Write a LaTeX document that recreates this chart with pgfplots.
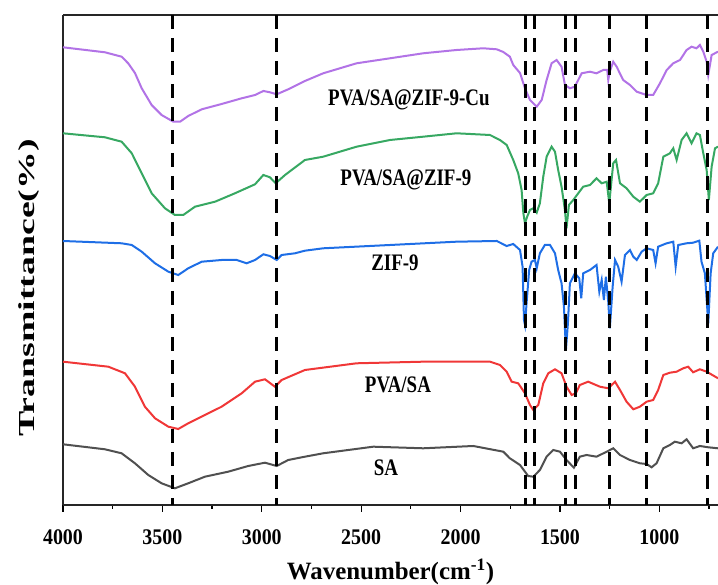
\documentclass[border=0pt]{standalone}
\usepackage{pgfplots}
\pgfplotsset{compat=1.18}
\usepackage{fontspec}
\setmainfont{Liberation Serif}

\definecolor{cupurple}{RGB}{178,115,230}
\definecolor{zifgreen}{RGB}{55,168,98}
\definecolor{zifblue}{RGB}{30,110,230}
\definecolor{pvared}{RGB}{240,55,55}
\definecolor{sagray}{RGB}{80,80,80}

\begin{document}
\begin{tikzpicture}
\begin{axis}[
  scale only axis,
  width=655bp, height=490bp,
  x dir=reverse,
  xmin=705, xmax=4000,
  ymin=0, ymax=490,
  axis x line*=box,
  axis y line*=left,
  y axis line style={-},
  axis line style={line width=1.4bp, black!85},
  xtick={1000,1500,2000,2500,3000,3500,4000},
  minor xtick={750,1250,1750,2250,2750,3250,3750},
  ytick=\empty,
  xtick pos=bottom,
  tick align=outside,
  major tick length=7bp, minor tick length=4bp,
  every tick/.style={black, line width=1.2bp},
  /pgf/number format/assume math mode=true,
  /pgf/number format/1000 sep={},
  xticklabel style={font=\bfseries\fontsize{20}{24}\selectfont, anchor=base, yshift=-33bp, yscale=1.12},
  xlabel={Wavenumber(cm\textsuperscript{-1})},
  xlabel style={font=\bfseries\fontsize{25}{30}\selectfont, at={(axis description cs:0.5,0)}, anchor=base, yshift=-75bp},
  ylabel={Transmittance(\%)},
  ylabel style={font=\bfseries\fontsize{23}{28}\selectfont, at={(axis description cs:-0.03,0.443)}, anchor=south, xscale=1.65},
  clip=false,
]
% PVA/SA@ZIF-9-Cu
\addplot[cupurple, line width=2bp] coordinates {
(4000,457.7) (3789,452.7) (3705,448.3) (3672,441.7) (3638,432) (3604,416.7) (3554,400)
(3504,390) (3445,383.3) (3411,383.3) (3370,389) (3302,395.7) (3202,401) (3101,406.7)
(3034,410) (2992,414) (2959,412.7) (2925,410.7) (2867,415.7) (2783,424) (2691,431.7)
(2523,441.7) (2355,446.7) (2188,451.7) (2020,455) (1886,456.7) (1818,455.7) (1785,453)
(1752,448.3) (1735,440) (1701,432) (1676,416.7) (1651,405) (1617,398.3) (1592,405)
(1567,425) (1542,441.7) (1517,445) (1492,438.3) (1475,420) (1450,416.7) (1425,418.3)
(1391,431.7) (1349,433.3) (1316,431.7) (1282,435) (1262,435) (1257,425) (1250,433)
(1232,443.3) (1215,438.3) (1182,425) (1148,420) (1114,413.3) (1064,410) (1031,410)
(997,421.7) (963,435) (930,441.7) (896,445) (863,455) (838,458.3) (813,456.7) (796,460)
(779,453.3) (762,443.3) (754,430) (737,450) (705,453.3)
};
% PVA/SA@ZIF-9
\addplot[zifgreen, line width=2bp] coordinates {
(4000,371.7) (3789,367.7) (3705,363.3) (3654,351.7) (3604,331.7) (3554,311.7) (3487,296.7)
(3437,290) (3395,290) (3336,298.3) (3235,303.3) (3135,311.7) (3034,320.7) (2992,330)
(2959,327.7) (2930,321.7) (2883,330) (2783,345) (2691,348.3) (2523,358.3) (2355,365)
(2188,368.3) (2020,371.7) (1852,370) (1802,365) (1768,360) (1735,345) (1710,331.7)
(1693,315) (1684,291.7) (1676,281.7) (1665,288.3) (1651,295) (1634,296.7) (1617,292.3)
(1601,301.7) (1584,328.3) (1567,348.3) (1542,358.3) (1525,353.3) (1509,335) (1492,318.3)
(1475,295) (1467,276.7) (1455,300) (1433,305) (1408,311.7) (1383,318.3) (1349,320)
(1316,326.7) (1290,321.7) (1265,323.3) (1252,301.7) (1232,341.7) (1218,345) (1198,321.7)
(1165,316.7) (1131,308.3) (1098,303.3) (1064,310) (1031,311.7) (1006,321.7) (980,348.3)
(947,351.7) (930,356.7) (913,345) (888,365) (863,371.7) (838,361.7) (813,371.7) (796,370)
(779,351.7) (762,335) (751,305) (737,338.3) (720,356.7) (705,358.3)
};
% ZIF-9
\addplot[zifblue, line width=2bp] coordinates {
(4000,264) (3705,261.7) (3654,260) (3604,253.3) (3537,241.7) (3470,233.3) (3420,230)
(3370,236.7) (3302,243.3) (3202,245) (3126,245) (3076,241.7) (3034,245) (2992,250.7)
(2959,249) (2925,245) (2900,250) (2833,251.7) (2783,254.3) (2691,256.7) (2355,260)
(2020,263.3) (1818,264) (1768,259) (1735,261) (1701,255) (1688,238.3) (1681,185)
(1676,180) (1668,201.7) (1655,235) (1643,243.3) (1626,245) (1617,236.7) (1601,251.7)
(1576,260) (1550,260) (1525,251.7) (1509,235) (1492,221.7) (1480,198.3) (1470,155)
(1460,181.7) (1450,221.7) (1425,231.7) (1403,226.7) (1393,206.7) (1383,231.7) (1349,235)
(1316,240) (1302,213.3) (1290,225) (1279,205) (1269,228.3) (1257,203.3) (1249,176.7)
(1235,218.3) (1223,245) (1207,238.3) (1190,223.3) (1173,250) (1148,255) (1131,248.3)
(1114,245) (1089,253.3) (1064,256.7) (1031,255) (1019,241.7) (1006,258.3) (963,261.7)
(930,263.3) (918,238.3) (905,260) (863,261.7) (830,262.3) (799,264.3) (788,243.3)
(771,231.7) (754,181.7) (742,231.7) (729,251.7) (705,258.3)
};
% PVA/SA
\addplot[pvared, line width=2bp] coordinates {
(4000,143.3) (3772,138.3) (3688,131.7) (3638,118.3) (3588,98.3) (3537,86.7) (3470,78.3)
(3420,76) (3370,81.7) (3286,90) (3202,98.3) (3101,111.7) (3034,123.3) (2984,125.7)
(2934,118.3) (2900,125) (2783,135) (2523,141.7) (2188,143.3) (1852,143.3) (1802,140)
(1768,133.3) (1743,123.3) (1710,121.7) (1676,111.7) (1651,100) (1634,95) (1609,100)
(1584,121.7) (1559,131.7) (1525,135.7) (1492,131.7) (1467,118.3) (1441,110) (1420,111.7)
(1400,120) (1358,123.3) (1299,118.3) (1257,116.7) (1223,123.3) (1198,115) (1165,103.3)
(1131,95.7) (1098,98.3) (1064,103.3) (1031,105) (1006,115) (980,130) (947,132.3)
(913,133.3) (880,136.7) (855,138.3) (830,132.7) (796,135.7) (762,133.3) (705,126.7)
};
% SA
\addplot[sagray, line width=2bp] coordinates {
(4000,60.7) (3789,55.7) (3705,51.7) (3638,41.7) (3571,30) (3504,21.7) (3437,16.7)
(3370,21.7) (3286,28.3) (3169,33.3) (3068,39) (2984,42.3) (2925,39) (2867,45) (2783,48.3)
(2691,51.7) (2439,58.3) (2188,56.7) (1936,59) (1785,53.3) (1752,46.7) (1701,40)
(1660,29) (1634,28.3) (1601,35) (1567,48.3) (1534,55) (1500,53.3) (1467,45) (1430,37.3)
(1400,48.3) (1366,50) (1316,48.3) (1265,53.3) (1232,56.7) (1198,50) (1148,45) (1098,41.7)
(1064,41) (1039,37.7) (1014,41.7) (980,56.7) (947,60) (922,63.3) (888,61.7) (863,65.7)
(830,56.7) (796,59) (754,57.7) (705,56.7)
};
% peak markers
\pgfplotsinvokeforeach{3447,2924,1673,1626,1470,1423,1252,1064,757}{
  \addplot[black, line width=3bp, dash pattern=on 14bp off 9bp] coordinates {(#1,490) (#1,0)};
}
\begin{scope}[every node/.style={font=\bfseries\fontsize{19}{22}\selectfont, anchor=center, yscale=1.25}]
\node at (axis cs:2260,405) {PVA/SA@ZIF-9-Cu};
\node at (axis cs:2275,325) {PVA/SA@ZIF-9};
\node at (axis cs:2330,242) {ZIF-9};
\node at (axis cs:2315,120) {PVA/SA};
\node at (axis cs:2375,37) {SA};
\end{scope}
\end{axis}
\pgfresetboundingbox
\useasboundingbox ([xshift=-63bp,yshift=-80bp]current axis.south west) rectangle ([yshift=15bp]current axis.north east);
\end{tikzpicture}
\end{document}
